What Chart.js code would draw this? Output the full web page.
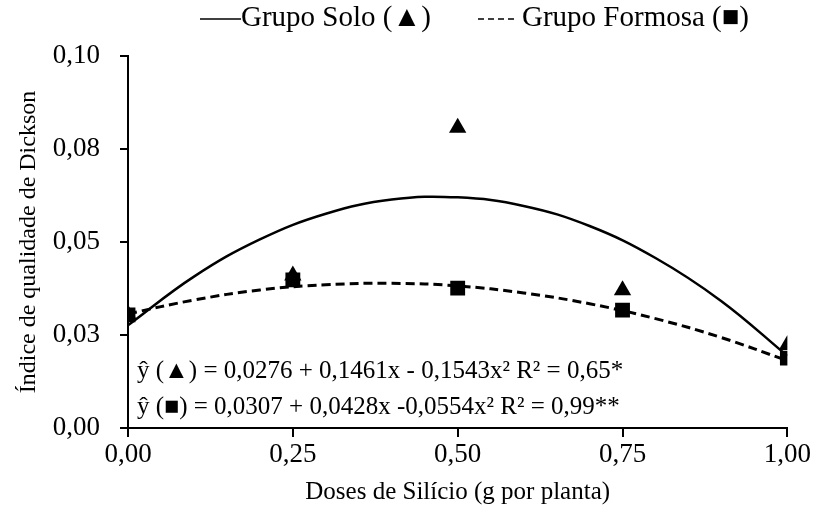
<!DOCTYPE html>
<html>
<head>
<meta charset="utf-8">
<script src="https://cdn.jsdelivr.net/npm/chart.js@4/dist/chart.umd.min.js"></script>
<style>
  body { margin: 0; background: #fff; }
  #wrap { width: 813px; height: 507px; }
</style>
</head>
<body>
<div id="wrap"><canvas id="myChart" width="813" height="507"></canvas></div>
<script>
// doses (g por planta)
let doses = [0, 0.25, 0.5, 0.75, 1];
let soloPts = [0.0305, 0.0410, 0.0807, 0.0370, 0.0223];
let formosaPts = [0.0304, 0.0398, 0.0376, 0.0317, 0.0188];

// curves
let curveX = [0, 0.1, 0.2, 0.3, 0.4, 0.5, 0.6, 0.7, 0.8, 0.9, 1];
let soloCurve = [0.0276, 0.0407, 0.0507, 0.0576, 0.0614, 0.0620, 0.0597, 0.0543, 0.0457, 0.0341, 0.0194];
let formosaCurve = [0.0307, 0.0344, 0.0371, 0.0385, 0.0389, 0.0382, 0.0363, 0.0334, 0.0294, 0.0243, 0.0181];

let xTickLabels = ['0,00', '0,25', '0,50', '0,75', '1,00'];
let yTickLabels = ['0,00', '0,03', '0,05', '0,08', '0,10'];

let eqSolo = 'ŷ (▲) = 0,0276 + 0,1461x - 0,1543x² R² = 0,65*';
let eqFormosa = 'ŷ (■) = 0,0307 + 0,0428x -0,0554x² R² = 0,99**';

function pairs(xs, ys) {
    return xs.map(function (x, i) { return { x: x, y: ys[i] }; });
}

const serif = '"Liberation Serif", "DejaVu Serif", serif';

// legend + equations drawn by hand
let textPlugin = {
    id: 'texts',
    afterDraw: function (chart) {
        let ctx = chart.ctx;
        let area = chart.chartArea;
        ctx.save();
        ctx.fillStyle = '#000';
        ctx.strokeStyle = '#000';
        ctx.textBaseline = 'middle';
        ctx.font = '29px ' + serif;

        // legend
        let ly = 18;
        ctx.lineWidth = 1.5;
        ctx.beginPath();
        ctx.moveTo(200, ly + 1);
        ctx.lineTo(241, ly + 1);
        ctx.stroke();
        ctx.fillText('Grupo Solo (▲)', 241, ly);

        ctx.setLineDash([6, 4]);
        ctx.beginPath();
        ctx.moveTo(478, ly + 1);
        ctx.lineTo(516, ly + 1);
        ctx.stroke();
        ctx.setLineDash([]);
        ctx.fillText('Grupo Formosa (■)', 522, ly);

        // equations
        ctx.font = '25px ' + serif;
        ctx.fillText(eqSolo, area.left + 9, 371);
        ctx.fillText(eqFormosa, area.left + 9, 407);
        ctx.restore();
    }
};

let config = {
    type: 'scatter',
    data: {
        datasets: [
            {
                label: 'Grupo Solo curva',
                data: pairs(curveX, soloCurve),
                showLine: true,
                borderColor: '#000',
                borderWidth: 2.5,
                pointRadius: 0,
                tension: 0.4,
                order: 4
            },
            {
                label: 'Grupo Formosa curva',
                data: pairs(curveX, formosaCurve),
                showLine: true,
                borderColor: '#000',
                borderWidth: 3,
                borderDash: [9, 5],
                pointRadius: 0,
                tension: 0.4,
                order: 3
            },
            {
                label: 'Grupo Solo',
                data: pairs(doses, soloPts),
                pointStyle: 'triangle',
                pointRadius: 10,
                backgroundColor: '#000',
                borderColor: '#000',
                borderWidth: 0,
                order: 2
            },
            {
                label: 'Grupo Formosa',
                data: pairs(doses, formosaPts),
                pointStyle: 'rect',
                pointRadius: 10.5,
                backgroundColor: '#000',
                borderColor: '#000',
                borderWidth: 0,
                order: 1
            }
        ]
    },
    options: {
        responsive: false,
        animation: false,
        layout: { padding: { top: 56, right: 25, left: 0, bottom: 0 } },
        plugins: {
            legend: { display: false },
            tooltip: { enabled: false }
        },
        scales: {
            x: {
                type: 'linear',
                min: 0,
                max: 1,
                afterFit: function (scale) { scale.height = 79; },
                afterBuildTicks: function (scale) {
                    scale.ticks = doses.map(function (v) { return { value: v }; });
                },
                ticks: {
                    color: '#000',
                    font: { family: serif, size: 27 },
                    padding: 2,
                    maxRotation: 0,
                    callback: function (v, i) { return xTickLabels[i]; }
                },
                grid: { drawOnChartArea: false, drawTicks: true, tickLength: 9, color: '#000', lineWidth: 2 },
                border: { color: '#000', width: 2 },
                title: {
                    display: true,
                    text: 'Doses de Silício (g por planta)',
                    color: '#000',
                    font: { family: serif, size: 25 },
                    padding: { top: 0, bottom: 0 }
                }
            },
            y: {
                min: 0,
                max: 0.1,
                afterFit: function (scale) { scale.width = 128; },
                afterBuildTicks: function (scale) {
                    scale.ticks = [0, 0.025, 0.05, 0.075, 0.1].map(function (v) { return { value: v }; });
                },
                ticks: {
                    color: '#000',
                    font: { family: serif, size: 27 },
                    padding: 20,
                    callback: function (v, i) { return yTickLabels[i]; }
                },
                grid: { drawOnChartArea: false, drawTicks: true, tickLength: 8, color: '#000', lineWidth: 2 },
                border: { color: '#000', width: 2 },
                title: {
                    display: true,
                    text: 'Índice de qualidade de Dickson',
                    color: '#000',
                    font: { family: serif, size: 24 },
                    padding: { top: 14, bottom: 0 }
                }
            }
        }
    },
    plugins: [textPlugin]
};

const myChart = new Chart(document.getElementById('myChart'), config);
</script>
</body>
</html>
